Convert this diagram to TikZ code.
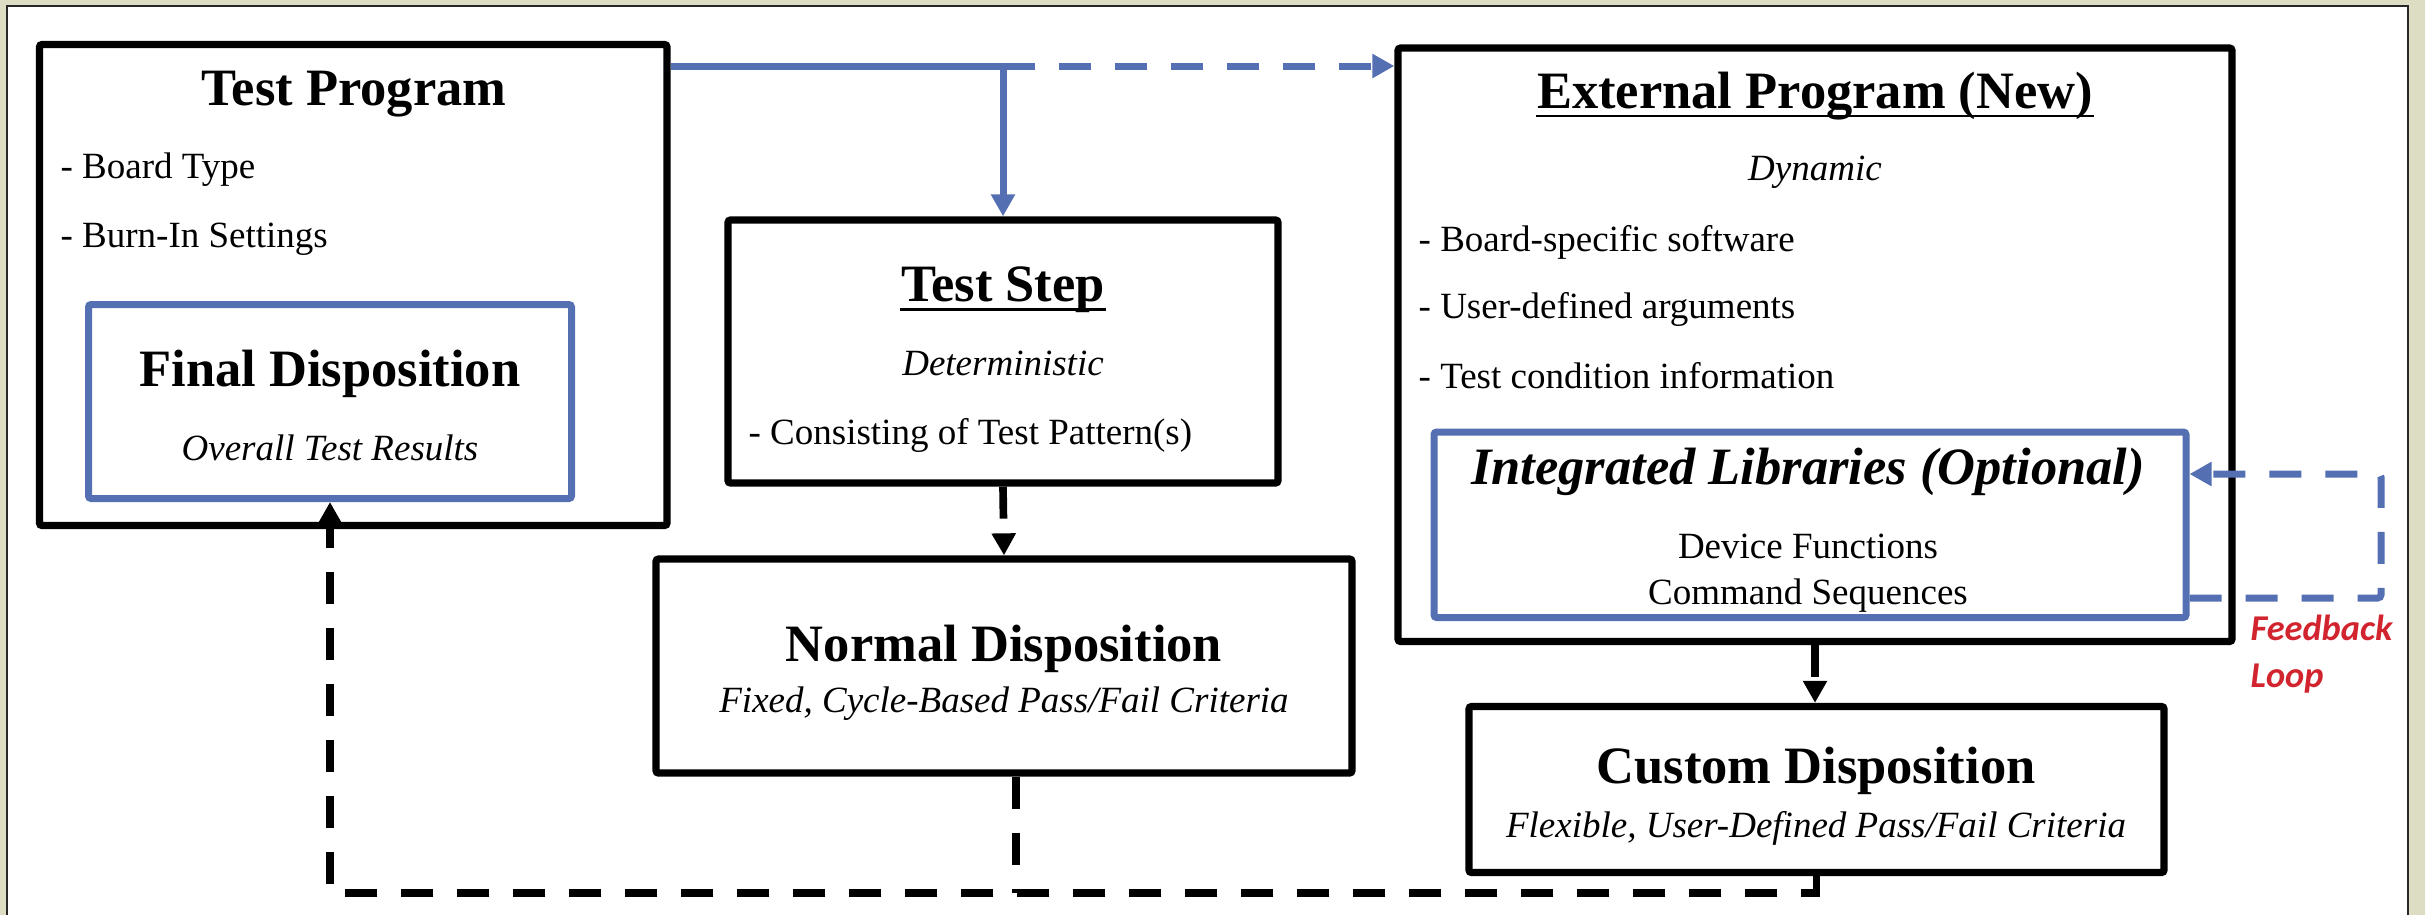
\documentclass[tikz,border=0pt]{standalone}
\usepackage{fontspec}
\setmainfont{Liberation Serif}
\newfontfamily\calibfont{Carlito}
\usetikzlibrary{arrows.meta}
\newdimen\pxu \pxu=0.3pt
\definecolor{bgbeige}{RGB}{221,221,196}
\definecolor{flowblue}{RGB}{84,112,178}
\definecolor{fbred}{RGB}{210,36,46}
\definecolor{panelline}{RGB}{40,40,40}
\tikzset{
  box/.style={draw=black, line width=2.2pt, rounded corners=0.8pt, fill=white, inner sep=0pt},
  bluebox/.style={draw=flowblue, line width=2.1pt, rounded corners=0.8pt, fill=white, inner sep=0pt},
  ttl/.style={inner sep=0pt, anchor=base, font=\fontsize{15.75}{18}\selectfont\bfseries},
  ttlit/.style={inner sep=0pt, anchor=base, font=\fontsize{15.75}{18}\selectfont\bfseries\itshape},
  body/.style={inner sep=0pt, anchor=base, font=\fontsize{11.1}{13}\selectfont},
  bodyit/.style={inner sep=0pt, anchor=base, font=\fontsize{11.1}{13}\selectfont\itshape},
  bodyl/.style={body, anchor=base west},
  fbtext/.style={inner sep=0pt, anchor=base west, text=fbred, font=\calibfont\fontsize{10.9}{13}\selectfont\bfseries\itshape},
  blueline/.style={draw=flowblue, line width=2.1pt},
  blackline/.style={draw=black, line width=2.3pt},
  dashpat/.style={dash pattern=on 9.6pt off 7.2pt},
  tip/.style={-{Triangle[length=6.6pt,width=6.9pt]}},
  uline/.style={line width=0.8pt},
}
\begin{document}
\begin{tikzpicture}[x=0.3pt,y=-0.3pt]
\useasboundingbox (0,0) rectangle (2425,915);
% background and panel
\fill[bgbeige] (0,0) rectangle (2425,915);
\fill[white] (7,6) rectangle (2408,915);
\draw[panelline, line width=0.6pt] (7,915) -- (7,6) -- (2408,6) -- (2408,915);

% boxes
\node[box, minimum width=627.5\pxu, minimum height=481\pxu] (tp) at (353.25,285) {};
\node[bluebox, minimum width=483\pxu, minimum height=194\pxu] (fd) at (330,401.5) {};
\node[box, minimum width=550\pxu, minimum height=263\pxu] (ts) at (1003,351.5) {};
\node[box, minimum width=696\pxu, minimum height=214\pxu] (nd) at (1004,666) {};
\node[box, minimum width=834\pxu, minimum height=593.5\pxu] (ep) at (1815,344.75) {};
\node[bluebox, minimum width=752\pxu, minimum height=185.5\pxu] (il) at (1810,524.75) {};
\node[box, minimum width=695\pxu, minimum height=166\pxu] (cd) at (1816.5,789.5) {};

% texts
\node[ttl] (tpT) at (354,105) {Test Program};
\node[bodyl] (tpA) at (60,178) {- Board Type};
\node[bodyl] (tpB) at (60,247) {- Burn-In Settings};
\node[ttl] (fdT) at (330,386) {Final Disposition};
\node[bodyit] (fdS) at (330,460) {Overall Test Results};

\node[ttl] (tsT) at (1003,301) {Test Step};
\draw[uline] ([yshift=-2.5pt]tsT.base west) -- ([yshift=-2.5pt]tsT.base east);
\node[bodyit] (tsS) at (1003,375) {Deterministic};
\node[bodyl] (tsA) at (748,444) {- Consisting of Test Pattern(s)};

\node[ttl] (ndT) at (1004,661) {Normal Disposition};
\node[bodyit] (ndS) at (1004,712) {Fixed, Cycle-Based Pass/Fail Criteria};

\node[ttl] (epT) at (1815,108) {External Program (New)};
\draw[uline] ([yshift=-2.4pt]epT.base west) -- ([yshift=-2.4pt]epT.base east);
\node[bodyit] (epS) at (1815,180) {Dynamic};
\node[bodyl] (epA) at (1418,251) {- Board-specific software};
\node[bodyl] (epB) at (1418,318) {- User-defined arguments};
\node[bodyl] (epC) at (1418,388) {- Test condition information};

\node[ttlit] (ilT) at (1808,484) {Integrated Libraries (Optional)};
\node[body] (ilA) at (1808,558) {Device Functions};
\node[body] (ilB) at (1808,604) {Command Sequences};

\node[ttl] (cdT) at (1816,783) {Custom Disposition};
\node[bodyit] (cdS) at (1816,837) {Flexible, User-Defined Pass/Fail Criteria};

\node[fbtext] (fbA) at (2250,640) {Feedback};
\node[fbtext] (fbB) at (2250,687) {Loop};

% connectors
\coordinate (j1) at (1003,66);
\draw[blueline, tip] (tp.east |- j1) -| (ts.north);
\draw[blueline, dashpat, tip] (j1) -- (ep.west |- j1);

\draw[blackline, dashpat, tip] (ts.south) -- (nd.north);
\draw[blackline, dashpat, tip] (ep.south) -- (ep.south |- cd.north);

\coordinate (bl) at (330,893);
\draw[blackline, dashpat, tip] (cd.south) |- (bl) -- (fd.south);
\coordinate (nb) at (1016,893);
\draw[blackline, dashpat] (nb |- nd.south) -- (nb);

\coordinate (fb1) at (2381,598);
\coordinate (fb2) at (2381,474);
\draw[blueline, dashpat, tip, rounded corners=1pt] (il.east |- fb1) -- (fb1) -- (fb2) -- (il.east |- fb2);
\end{tikzpicture}
\end{document}
